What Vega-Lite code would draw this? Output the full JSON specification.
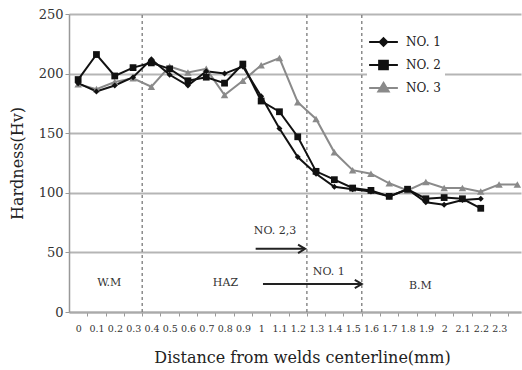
{
  "$schema": "https://vega.github.io/schema/vega-lite/v6.json",
  "width": 452,
  "height": 298,
  "autosize": {"type": "none"},
  "padding": {"left": 69, "top": 14, "right": 1, "bottom": 58},
  "background": "white",
  "config": {"view": {"stroke": null}, "font": "DejaVu Serif"},
  "datasets": {
    "hardness": [
      {"series": "NO. 3", "x": 0, "hv": 191}, {"series": "NO. 3", "x": 0.1, "hv": 187}, {"series": "NO. 3", "x": 0.2, "hv": 193}, {"series": "NO. 3", "x": 0.3, "hv": 196}, {"series": "NO. 3", "x": 0.4, "hv": 189}, {"series": "NO. 3", "x": 0.5, "hv": 206}, {"series": "NO. 3", "x": 0.6, "hv": 201}, {"series": "NO. 3", "x": 0.7, "hv": 204}, {"series": "NO. 3", "x": 0.8, "hv": 182}, {"series": "NO. 3", "x": 0.9, "hv": 194}, {"series": "NO. 3", "x": 1.0, "hv": 207}, {"series": "NO. 3", "x": 1.1, "hv": 213}, {"series": "NO. 3", "x": 1.2, "hv": 176}, {"series": "NO. 3", "x": 1.3, "hv": 162}, {"series": "NO. 3", "x": 1.4, "hv": 134}, {"series": "NO. 3", "x": 1.5, "hv": 119}, {"series": "NO. 3", "x": 1.6, "hv": 116}, {"series": "NO. 3", "x": 1.7, "hv": 108}, {"series": "NO. 3", "x": 1.8, "hv": 102}, {"series": "NO. 3", "x": 1.9, "hv": 109}, {"series": "NO. 3", "x": 2.0, "hv": 104}, {"series": "NO. 3", "x": 2.1, "hv": 104}, {"series": "NO. 3", "x": 2.2, "hv": 101}, {"series": "NO. 3", "x": 2.3, "hv": 107}, {"series": "NO. 3", "x": 2.4, "hv": 107},
      {"series": "NO. 2", "x": 0, "hv": 195}, {"series": "NO. 2", "x": 0.1, "hv": 216}, {"series": "NO. 2", "x": 0.2, "hv": 198}, {"series": "NO. 2", "x": 0.3, "hv": 205}, {"series": "NO. 2", "x": 0.4, "hv": 209}, {"series": "NO. 2", "x": 0.5, "hv": 204}, {"series": "NO. 2", "x": 0.6, "hv": 194}, {"series": "NO. 2", "x": 0.7, "hv": 197}, {"series": "NO. 2", "x": 0.8, "hv": 192}, {"series": "NO. 2", "x": 0.9, "hv": 208}, {"series": "NO. 2", "x": 1.0, "hv": 177}, {"series": "NO. 2", "x": 1.1, "hv": 168}, {"series": "NO. 2", "x": 1.2, "hv": 147}, {"series": "NO. 2", "x": 1.3, "hv": 118}, {"series": "NO. 2", "x": 1.4, "hv": 111}, {"series": "NO. 2", "x": 1.5, "hv": 104}, {"series": "NO. 2", "x": 1.6, "hv": 102}, {"series": "NO. 2", "x": 1.7, "hv": 97}, {"series": "NO. 2", "x": 1.8, "hv": 103}, {"series": "NO. 2", "x": 1.9, "hv": 95}, {"series": "NO. 2", "x": 2.0, "hv": 96}, {"series": "NO. 2", "x": 2.1, "hv": 95}, {"series": "NO. 2", "x": 2.2, "hv": 87},
      {"series": "NO. 1", "x": 0, "hv": 192}, {"series": "NO. 1", "x": 0.1, "hv": 185}, {"series": "NO. 1", "x": 0.2, "hv": 190}, {"series": "NO. 1", "x": 0.3, "hv": 197}, {"series": "NO. 1", "x": 0.4, "hv": 212}, {"series": "NO. 1", "x": 0.5, "hv": 199}, {"series": "NO. 1", "x": 0.6, "hv": 190}, {"series": "NO. 1", "x": 0.7, "hv": 202}, {"series": "NO. 1", "x": 0.8, "hv": 200}, {"series": "NO. 1", "x": 0.9, "hv": 206}, {"series": "NO. 1", "x": 1.0, "hv": 181}, {"series": "NO. 1", "x": 1.1, "hv": 154}, {"series": "NO. 1", "x": 1.2, "hv": 130}, {"series": "NO. 1", "x": 1.3, "hv": 116}, {"series": "NO. 1", "x": 1.4, "hv": 105}, {"series": "NO. 1", "x": 1.5, "hv": 103}, {"series": "NO. 1", "x": 1.6, "hv": 101}, {"series": "NO. 1", "x": 1.7, "hv": 97}, {"series": "NO. 1", "x": 1.8, "hv": 103}, {"series": "NO. 1", "x": 1.9, "hv": 92}, {"series": "NO. 1", "x": 2.0, "hv": 90}, {"series": "NO. 1", "x": 2.1, "hv": 94}, {"series": "NO. 1", "x": 2.2, "hv": 95}
    ],
    "zones": [{"x": 0.35, "hv": 0, "hv2": 250}, {"x": 1.25, "hv": 0, "hv2": 250}, {"x": 1.55, "hv": 0, "hv2": 250}],
    "arrows": [{"x": 0.97, "x2": 1.24, "hv": 53}, {"x": 1.01, "x2": 1.55, "hv": 23.5}],
    "heads": [{"x": 1.24, "hv": 53}, {"x": 1.55, "hv": 23.5}],
    "notes": [
      {"label": "W.M", "x": 0.17, "hv": 24.3},
      {"label": "HAZ", "x": 0.805, "hv": 24.3},
      {"label": "B.M", "x": 1.87, "hv": 21.8},
      {"label": "NO. 2,3", "x": 1.076, "hv": 68},
      {"label": "NO. 1", "x": 1.37, "hv": 33.6}
    ]
  },
  "encoding": {
    "x": {
      "field": "x", "type": "quantitative",
      "scale": {"domain": [-0.05, 2.42], "nice": false, "zero": false},
      "axis": {
        "values": [0.05, 0.15, 0.25, 0.35, 0.45, 0.55, 0.65, 0.75, 0.85, 0.95, 1.05, 1.15, 1.25, 1.35, 1.45, 1.55, 1.65, 1.75, 1.85, 1.95, 2.05, 2.15, 2.25, 2.35],
        "labelExpr": "format(datum.value - 0.05, '.1~f')",
        "labelOffset": -9,
        "grid": false,
        "domainColor": "#aaaaaa", "domainWidth": 2,
        "tickColor": "#999999", "tickSize": 4,
        "labelFont": "DejaVu Serif", "labelFontSize": 9.5, "labelColor": "#333333", "labelPadding": 7,
        "labelOverlap": false, "labelBound": false, "labelFlush": false,
        "titleFont": "DejaVu Serif", "titleFontSize": 16, "titleFontWeight": "normal", "titleColor": "#222222",
        "titleY": 45, "titleX": 233, "titleBaseline": "middle"
      },
      "title": "Distance from welds centerline(mm)"
    },
    "y": {
      "field": "hv", "type": "quantitative",
      "scale": {"domain": [0, 250], "nice": false},
      "axis": {
        "values": [0, 50, 100, 150, 200, 250],
        "grid": true, "gridColor": "#b5b5b5", "gridWidth": 2,
        "domainColor": "#999999", "domainWidth": 1.5,
        "tickColor": "#999999", "tickSize": 4,
        "labelFont": "DejaVu Serif", "labelFontSize": 13, "labelColor": "#333333", "labelPadding": 2,
        "titleFont": "DejaVu Serif", "titleFontSize": 16, "titleFontWeight": "normal", "titleColor": "#222222",
        "titleX": -52, "titleBaseline": "middle"
      },
      "title": "Hardness(Hv)"
    }
  },
  "layer": [
    {
      "data": {"name": "zones"},
      "mark": {"type": "rule", "color": "#7a7a7a", "strokeDash": [3, 3], "strokeWidth": 1.3},
      "encoding": {"y2": {"field": "hv2"}}
    },
    {
      "data": {"name": "hardness"},
      "mark": {"type": "line", "strokeWidth": 2},
      "encoding": {
        "color": {"field": "series", "type": "nominal", "scale": {"domain": ["NO. 1", "NO. 2", "NO. 3"], "range": ["#111111", "#111111", "#8a8a8a"]}, "legend": null}
      }
    },
    {
      "data": {"name": "hardness"},
      "mark": {"type": "point", "filled": true, "opacity": 1},
      "encoding": {
        "color": {"field": "series", "type": "nominal", "scale": {"domain": ["NO. 1", "NO. 2", "NO. 3"], "range": ["#111111", "#111111", "#8a8a8a"]}, "legend": null},
        "shape": {"field": "series", "type": "nominal", "scale": {"domain": ["NO. 1", "NO. 2", "NO. 3"], "range": ["diamond", "square", "triangle-up"]}, "legend": null},
        "size": {"field": "series", "type": "ordinal", "scale": {"domain": ["NO. 1", "NO. 2", "NO. 3"], "range": [36, 56, 50]}, "legend": null}
      }
    },
    {
      "data": {"name": "arrows"},
      "mark": {"type": "rule", "color": "#222222", "strokeWidth": 2},
      "encoding": {"x2": {"field": "x2"}}
    },
    {
      "data": {"name": "heads"},
      "mark": {"type": "point", "shape": "M-2,-1.2L0,0L-2,1.2", "size": 49, "filled": false, "color": "#222222", "strokeWidth": 2, "opacity": 1}
    },
    {
      "data": {"name": "notes"},
      "mark": {"type": "text", "font": "DejaVu Serif", "fontSize": 11, "color": "#333333", "align": "center", "baseline": "middle"},
      "encoding": {"text": {"field": "label"}}
    },
    {
      "data": {"name": "hardness"},
      "transform": [{"filter": "datum.hv > 9999"}],
      "mark": {"type": "point", "filled": false, "size": 529, "opacity": 1, "strokeWidth": 2},
      "encoding": {
        "color": {"field": "series", "type": "nominal", "scale": {"domain": ["NO. 1", "NO. 2", "NO. 3"], "range": ["#111111", "#111111", "#8a8a8a"]}, "legend": {
            "title": null, "orient": "none", "legendX": 298, "legendY": 11.5,
            "padding": 4, "fillColor": "white",
            "symbolSize": 529, "symbolStrokeWidth": 2,
            "labelFont": "DejaVu Serif", "labelFontSize": 12, "labelColor": "#222222", "labelOffset": 10,
            "rowPadding": 2
          }},
        "shape": {
          "field": "series", "type": "nominal",
          "scale": {"domain": ["NO. 1", "NO. 2", "NO. 3"], "range": [
            "M-1.25,0L1.25,0M0,-0.33L0.33,0L0,0.33L-0.33,0ZM0,-0.16L0.16,0L0,0.16L-0.16,0Z",
            "M-1.25,0L1.25,0M-0.38,-0.38L0.38,-0.38L0.38,0.38L-0.38,0.38ZM-0.22,-0.22L0.22,-0.22L0.22,0.22L-0.22,0.22ZM-0.06,-0.06L0.06,-0.06L0.06,0.06L-0.06,0.06Z",
            "M-1.25,0L1.25,0M0,-0.45L0.45,0.3L-0.45,0.3ZM0,-0.22L0.22,0.15L-0.22,0.15Z"
          ]},
          "legend": {
            "title": null, "orient": "none", "legendX": 298, "legendY": 11.5,
            "padding": 4, "fillColor": "white",
            "symbolSize": 529, "symbolStrokeWidth": 2,
            "labelFont": "DejaVu Serif", "labelFontSize": 12, "labelColor": "#222222", "labelOffset": 10,
            "rowPadding": 2
          }
        }
      }
    }
  ],
  "resolve": {"scale": {"shape": "independent", "size": "independent", "color": "independent"}}
}
